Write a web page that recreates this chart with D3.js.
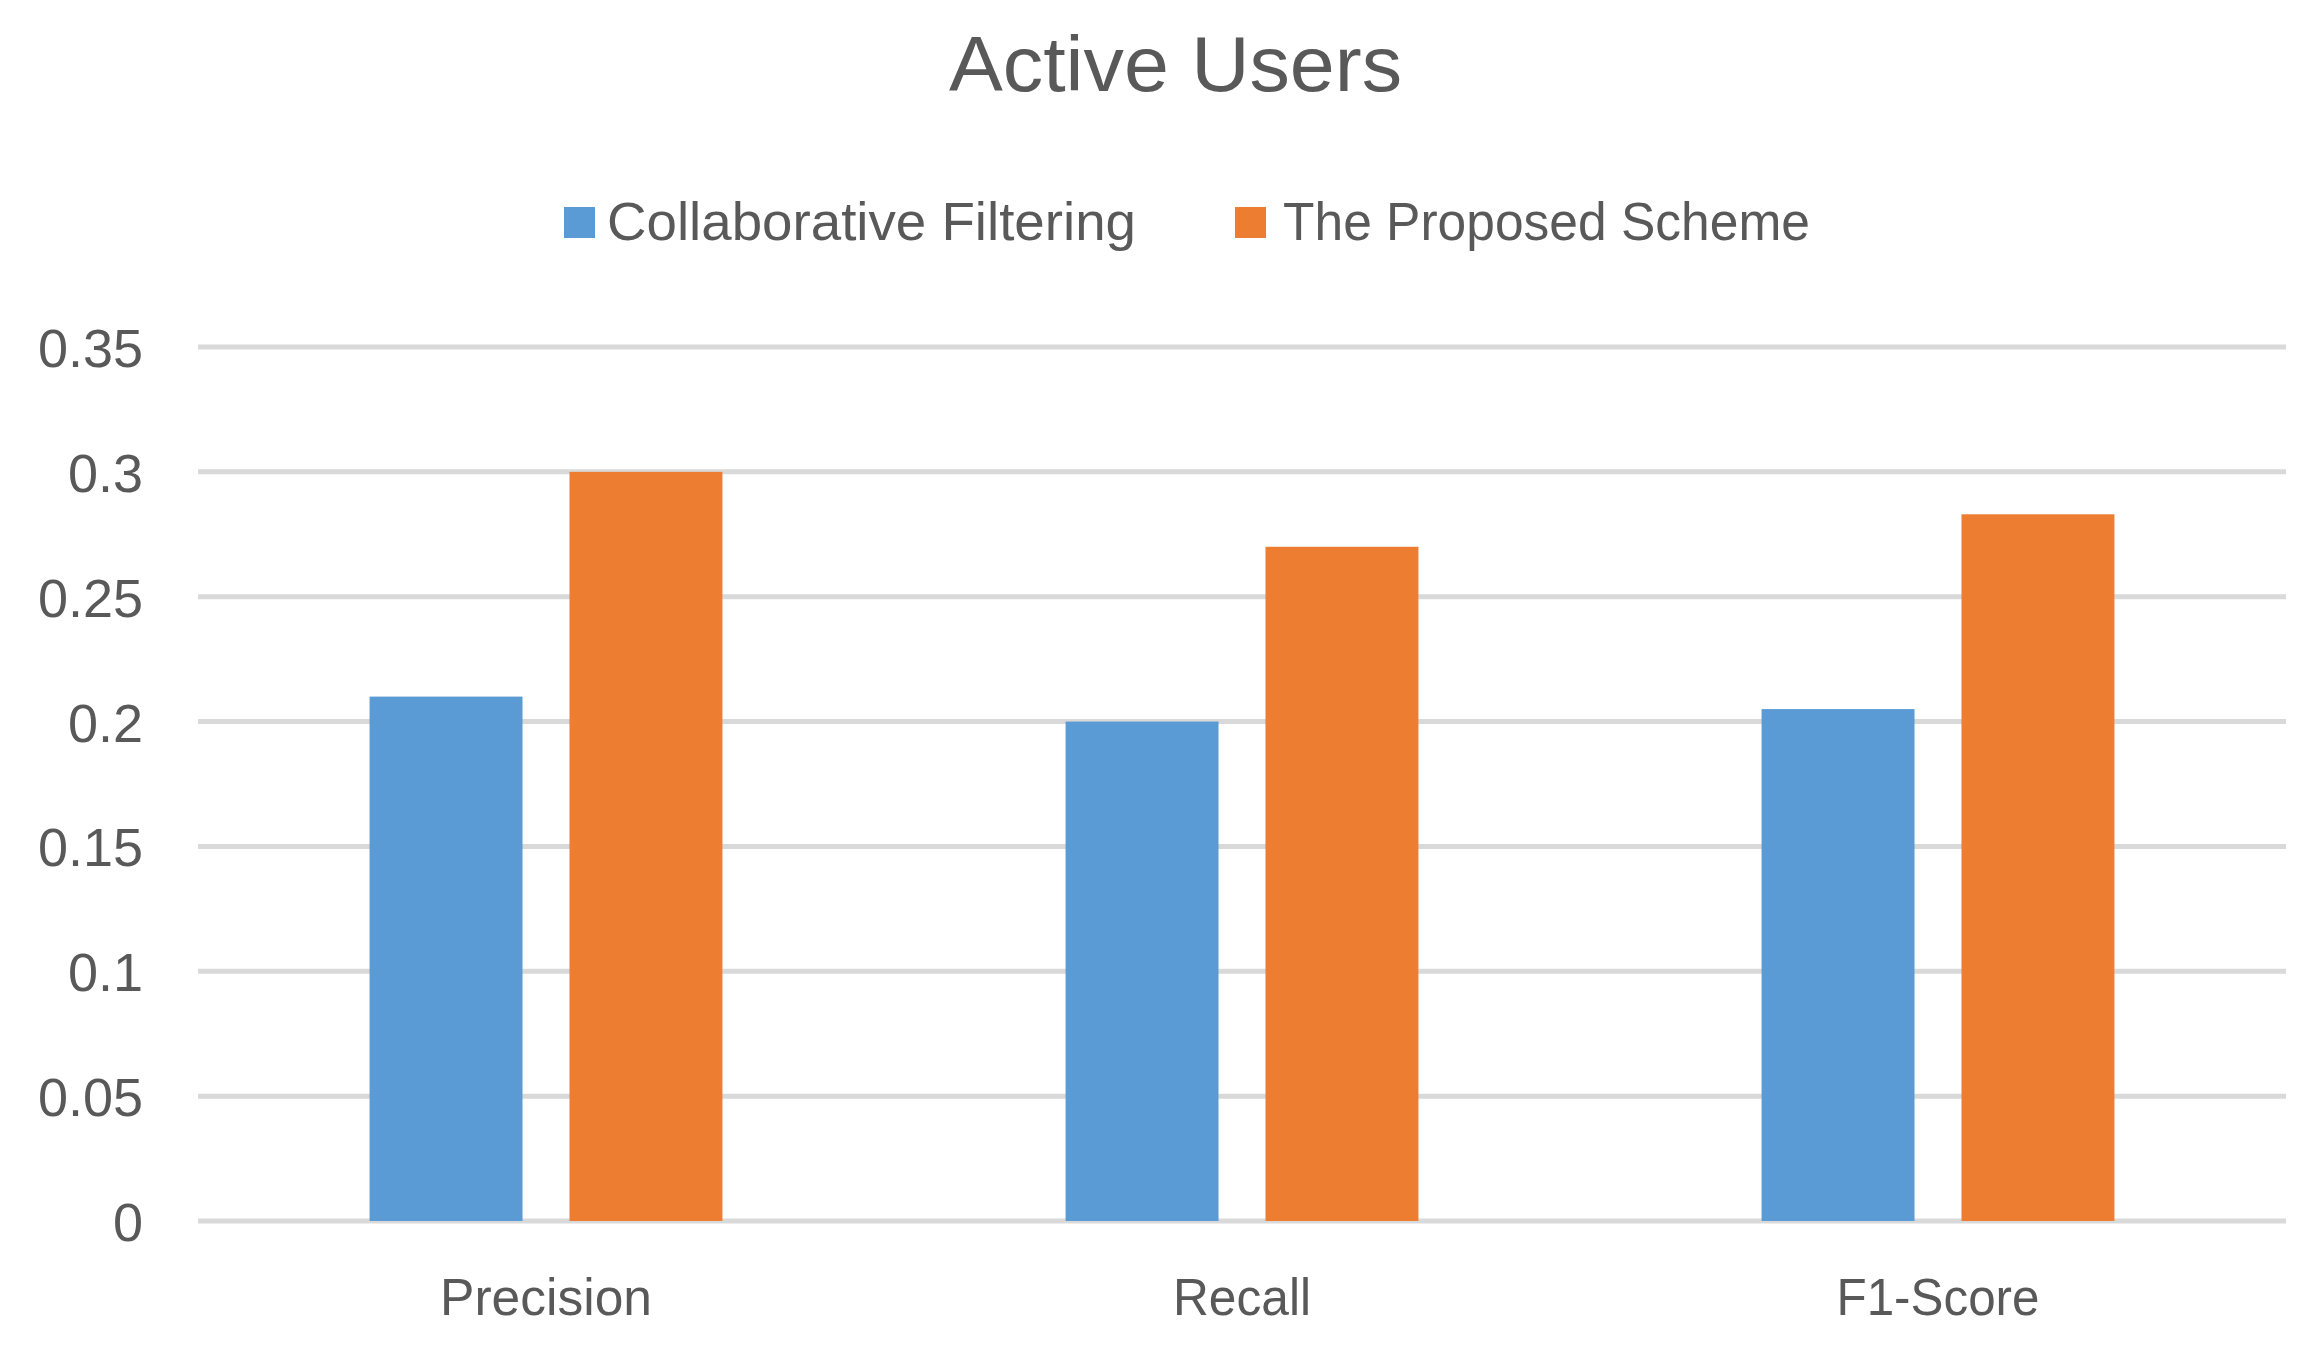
<!DOCTYPE html>
<html>
<head>
<meta charset="utf-8">
<script src="https://cdn.jsdelivr.net/npm/d3@7"></script>
<style>
  html, body { margin: 0; padding: 0; background: #fff; }
  svg { display: block; }
  text { font-family: "Liberation Sans", Arial, sans-serif; fill: #595959; }
</style>
</head>
<body>
<svg id="chart" width="2323" height="1349"></svg>
<script>
// ---- data ----
const categories = ["Precision", "Recall", "F1-Score"];
const seriesNames = ["Collaborative Filtering", "The Proposed Scheme"];
const collaborativeFiltering = [0.21, 0.20, 0.205];
const proposedScheme = [0.30, 0.27, 0.283];
const yTicks = [0, 0.05, 0.1, 0.15, 0.2, 0.25, 0.3, 0.35];
const yTickLabels = ["0", "0.05", "0.1", "0.15", "0.2", "0.25", "0.3", "0.35"];
const colors = ["#5b9bd5", "#ed7d31"];
const title = "Active Users";

const seriesValues = [collaborativeFiltering, proposedScheme];
const rows = categories.map((c, i) => ({
  category: c,
  values: seriesNames.map((s, j) => ({ series: s, idx: j, value: seriesValues[j][i] }))
}));

// ---- layout ----
const svg = d3.select("#chart");
const plotLeft = 198, plotRight = 2286, plotTop = 347, plotBottom = 1221;

const x0 = d3.scaleBand().domain(categories).range([plotLeft, plotRight])
  .paddingInner(0.493).paddingOuter(0.2465);
const x1 = d3.scaleBand().domain(d3.range(seriesNames.length)).range([0, x0.bandwidth()])
  .paddingInner(0.235).paddingOuter(0);
const y = d3.scaleLinear().domain([0, 0.35]).range([plotBottom, plotTop]);

// gridlines
svg.append("g").selectAll("line").data(yTicks).join("line")
  .attr("x1", plotLeft).attr("x2", plotRight)
  .attr("y1", d => y(d)).attr("y2", d => y(d))
  .attr("stroke", "#d9d9d9").attr("stroke-width", 5);

// y axis labels
const yAxis = d3.axisLeft(y).tickValues(yTicks)
  .tickFormat((d, i) => yTickLabels[i]).tickSize(0).tickPadding(0);
const yg = svg.append("g").attr("transform", `translate(143,0)`).call(yAxis);
yg.select(".domain").remove();
yg.selectAll("text").style("font-size", "54px").style("fill", "#595959")
  .style("font-family", '"Liberation Sans", Arial, sans-serif').attr("dy", "0.36em");

// bars
svg.append("g").selectAll("g").data(rows).join("g")
  .attr("transform", d => `translate(${x0(d.category)},0)`)
  .selectAll("rect").data(d => d.values).join("rect")
  .attr("x", d => x1(d.idx))
  .attr("width", x1.bandwidth())
  .attr("y", d => y(d.value))
  .attr("height", d => y(0) - y(d.value))
  .attr("fill", d => colors[d.idx]);

// x axis labels
const catWidths = [212, 138, 203];
const xAxis = d3.axisBottom(x0).tickSize(0).tickPadding(0);
const xg = svg.append("g").attr("transform", `translate(0,1315)`).call(xAxis);
xg.select(".domain").remove();
xg.selectAll("text").style("font-size", "52px").style("fill", "#595959")
  .style("font-family", '"Liberation Sans", Arial, sans-serif')
  .attr("dy", "0").attr("y", 0)
  .attr("textLength", (d, i) => catWidths[i]).attr("lengthAdjust", "spacingAndGlyphs");

// title
svg.append("text").attr("x", 949).attr("y", 91)
  .style("font-size", "78px")
  .attr("textLength", 453).attr("lengthAdjust", "spacingAndGlyphs")
  .text(title);

// legend
const legendItems = [
  { sx: 564, tx: 607, tw: 529 },
  { sx: 1235, tx: 1283, tw: 527 }
];
const lg = svg.append("g");
seriesNames.forEach((name, i) => {
  const it = legendItems[i];
  lg.append("rect").attr("x", it.sx).attr("y", 207).attr("width", 31).attr("height", 31)
    .attr("fill", colors[i]);
  lg.append("text").attr("x", it.tx).attr("y", 240)
    .style("font-size", "53px")
    .attr("textLength", it.tw).attr("lengthAdjust", "spacingAndGlyphs")
    .text(name);
});
</script>
</body>
</html>
